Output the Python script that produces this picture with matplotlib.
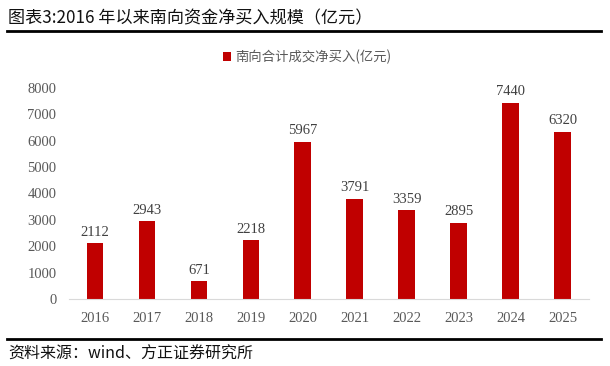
import matplotlib.pyplot as plt
from matplotlib.lines import Line2D
from matplotlib.patches import Patch

plt.rcParams['font.family'] = ['Noto Sans CJK SC', 'DejaVu Sans']

years = ["2016", "2017", "2018", "2019", "2020", "2021", "2022", "2023", "2024", "2025"]
net_buy = [2112, 2943, 671, 2218, 5967, 3791, 3359, 2895, 7440, 6320]
y_ticks = [0, 1000, 2000, 3000, 4000, 5000, 6000, 7000, 8000]

BAR_COLOR = "#C00000"
TICK_COLOR = "#595959"
SERIF = ["Liberation Serif", "DejaVu Serif"]


def main() -> None:
    fig = plt.figure(figsize=(6.1, 3.66), dpi=100)
    ax = fig.add_axes([0.113, 0.183, 0.852, 0.577])

    x = range(len(years))
    ax.bar(x, net_buy, width=0.32, color=BAR_COLOR, zorder=2)
    for xi, v in zip(x, net_buy):
        ax.text(xi, v + 180, f"{v}", ha="center", va="bottom",
                family=SERIF, fontsize=10.5, color="#404040")

    ax.set_xlim(-0.5, len(years) - 0.5)
    ax.set_ylim(0, 8000)
    ax.set_yticks(y_ticks)
    ax.set_xticks(list(x))
    ax.set_xticklabels(years)
    for lab in ax.get_xticklabels() + ax.get_yticklabels():
        lab.set_family(SERIF)
        lab.set_fontsize(10.5)
        lab.set_color(TICK_COLOR)
    ax.tick_params(length=0, pad=9)
    ax.tick_params(axis="y", pad=9)
    for side in ["top", "right", "left"]:
        ax.spines[side].set_visible(False)
    ax.spines["bottom"].set_color("#D9D9D9")

    handle = Patch(facecolor=BAR_COLOR, edgecolor="none")
    fig.legend([handle], ["南向合计成交净买入(亿元)"], loc="center",
               bbox_to_anchor=(0.503, 0.845), frameon=False, fontsize=9.6,
               labelcolor=TICK_COLOR, handlelength=0.6, handleheight=0.6,
               handletextpad=0.3)

    fig.text(0.013, 0.95, "图表3:2016 年以来南向资金净买入规模（亿元）",
             fontsize=12.3, ha="left", va="center", color="#111111")
    fig.add_artist(Line2D([0.012, 0.985], [0.914, 0.914], color="black", lw=2))
    fig.add_artist(Line2D([0.012, 0.985], [0.073, 0.073], color="black", lw=2))
    fig.text(0.013, 0.032, "资料来源：wind、方正证券研究所",
             fontsize=11.5, ha="left", va="center", color="#111111")

    fig.savefig("out.png", dpi=100)
    plt.close(fig)


if __name__ == "__main__":
    main()
